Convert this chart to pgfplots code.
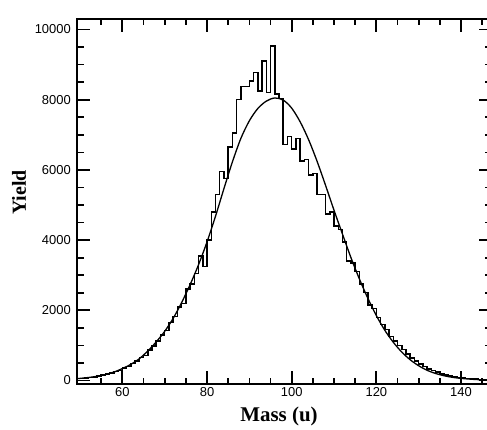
\documentclass[border=0pt]{standalone}
\usepackage{fontspec}
\setmainfont{Liberation Serif}
\newfontfamily\ticksans{Liberation Sans}
\usepackage{pgfplots}
\pgfplotsset{compat=1.18}
\usetikzlibrary{calc}

\begin{document}
\begin{tikzpicture}
\begin{axis}[
  name=ax, scale only axis,
  width=414bp, height=365bp,
  xmin=49.4, xmax=147.2, ymin=-100, ymax=10300,
  xtick={60,80,...,140}, minor xtick={55,60,...,145},
  ytick={0,2000,...,10000}, minor ytick={500,1000,...,10000},
  xtick pos=both, ytick pos=both,
  tick align=inside,
  axis line style={line width=2bp},
  major tick length=13bp, minor tick length=6.5bp,
  major tick style={line width=1.9bp, black},
  minor tick style={line width=1.7bp, black},
  ticklabel style={font=\ticksans\fontsize{13}{13}\selectfont, inner sep=0pt},
  xticklabel style={yshift=-3bp},
  yticklabel style={xshift=-6.5bp},
  /pgf/number format/assume math mode=true,
  /pgf/number format/set thousands separator={},
  scaled y ticks=false,
]
% ---- histogram, 1 u bins (value holds from x to next x) ----
\addplot[const plot, black, line width=1.5bp] coordinates {
(49,50) (50,60) (51,70) (52,90) (53,80) (54,130) (55,150) (56,190) (57,210) (58,260) (59,290)
(60,360) (61,400) (62,480) (63,560) (64,660) (65,710) (66,870) (67,980) (68,1120) (69,1300)
(70,1430) (71,1650) (72,1820) (73,2100) (74,2200) (75,2600) (76,2750) (77,3050) (78,3550) (79,3250)
(80,4000) (81,4800) (82,5300) (83,5950) (84,5750) (85,6650) (86,7050) (87,8000) (88,8380) (89,8380)
(90,8530) (91,8770) (92,8250) (93,9110) (94,8210) (95,9530) (96,8170) (97,8030) (98,6720) (99,6950)
(100,6600) (101,6900) (102,6250) (103,6300) (104,5850) (105,5900) (106,5300) (107,5300) (108,4750) (109,4800)
(110,4400) (111,4300) (112,3950) (113,3400) (114,3350) (115,3100) (116,2750) (117,2500) (118,2150) (119,2050)
(120,1800) (121,1600) (122,1450) (123,1250) (124,1130) (125,1000) (126,880) (127,760) (128,640) (129,560)
(130,470) (131,400) (132,330) (133,280) (134,240) (135,190) (136,160) (137,130) (138,110) (139,90)
(140,70) (141,60) (142,50) (143,40) (144,30) (145,25) (146,20) (147,20) (148,20)
};
% ---- fitted curve ----
\addplot[smooth, black, line width=1.3bp] coordinates {
(49,50) (50,60) (52,85) (54,120) (56,170) (58,240) (60,340) (62,460) (64,620) (66,840) (68,1100)
(70,1400) (72,1770) (74,2220) (76,2730) (78,3300) (80,3950) (82,4680) (84,5470) (86,6230) (88,6900)
(90,7400) (92,7750) (94,7960) (96,8050) (98,7990) (100,7760) (102,7370) (104,6860) (106,6245) (108,5560)
(110,4850) (112,4170) (114,3500) (116,2890) (118,2340) (120,1850) (122,1430) (124,1090) (126,810) (128,590)
(130,420) (132,290) (134,200) (136,135) (138,90) (140,60) (142,40) (144,25) (146,15) (148,10)
};
\end{axis}
\node[font=\bfseries\fontsize{21}{21}\selectfont, anchor=base]
  at ($(ax.south west)+(201.5bp,-37.7bp)$) {Mass (u)};
\node[font=\bfseries\fontsize{20}{20}\selectfont, rotate=90, anchor=base]
  at ($(ax.south west)+(-51.5bp,191.5bp)$) {Yield};
\pgfresetboundingbox
\path ($(ax.south west)+(-77.5bp,-46bp)$) rectangle ($(ax.north east)+(-4.5bp,19bp)$);
\end{tikzpicture}
\end{document}
